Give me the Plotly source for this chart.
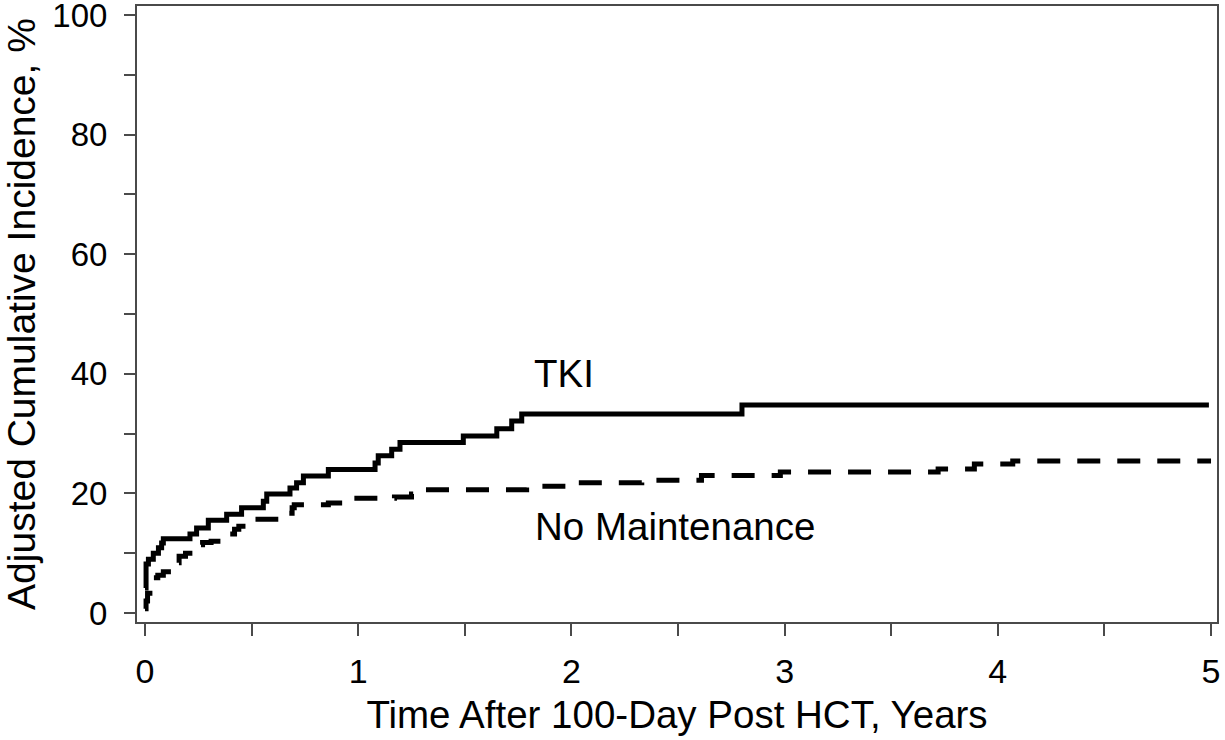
import plotly.graph_objects as go

# TKI (solid) step curve: time (years) and cumulative incidence (%)
tki_t = [0, 0.005, 0.016, 0.039, 0.063, 0.078, 0.086, 0.211, 0.242, 0.297, 0.383, 0.453,
         0.555, 0.571, 0.680, 0.711, 0.743, 0.860, 1.079, 1.094, 1.157, 1.196, 1.493,
         1.650, 1.720, 1.767, 2.800, 4.99]
tki_v = [4.2, 8.2, 9.0, 10.0, 10.9, 11.7, 12.4, 13.2, 14.2, 15.5, 16.5, 17.6,
         18.7, 19.9, 20.9, 21.8, 22.9, 24.0, 25.1, 26.3, 27.4, 28.5, 29.6,
         30.8, 32.1, 33.3, 34.8, 34.8]

# No Maintenance (dashed) step curve
nm_t = [0, 0.005, 0.012, 0.023, 0.035, 0.06, 0.086, 0.13, 0.16, 0.19, 0.23, 0.27, 0.31,
        0.37, 0.39, 0.42, 0.44, 0.50, 0.53, 0.66, 0.69, 0.70, 0.86, 0.97, 1.17, 1.25,
        1.29, 1.79, 1.96, 2.33, 2.61, 2.98, 3.72, 3.89, 4.07, 5.0]
nm_v = [0.7, 2.0, 3.3, 5.3, 5.9, 6.3, 6.9, 8.4, 9.5, 10.0, 11.4, 11.8, 12.0,
        12.9, 13.2, 14.0, 14.5, 15.1, 15.7, 16.7, 17.6, 18.1, 18.4, 19.2, 19.4, 19.9,
        20.6, 21.2, 21.8, 22.2, 23.0, 23.6, 24.1, 24.9, 25.4, 25.4]

x_ticks = [0, 0.5, 1, 1.5, 2, 2.5, 3, 3.5, 4, 4.5, 5]
x_ticktext = ["0", "", "1", "", "2", "", "3", "", "4", "", "5"]
y_ticks = [0, 10, 20, 30, 40, 50, 60, 70, 80, 90, 100]
y_ticktext = ["0", "", "20", "", "40", "", "60", "", "80", "", "100"]

FONT = "Liberation Sans, Arial, Helvetica, sans-serif"
AXC = "#4a4a4a"

fig = go.Figure()
fig.add_trace(go.Scatter(x=tki_t, y=tki_v, mode="lines", line_shape="hv",
                         line=dict(color="black", width=5), name="TKI",
                         showlegend=False))
fig.add_trace(go.Scatter(x=nm_t, y=nm_v, mode="lines", line_shape="hv",
                         line=dict(color="black", width=5, dash="23px,17px"),
                         name="No Maintenance", showlegend=False))

fig.add_annotation(x=1.815, y=40.0, text="TKI", showarrow=False, xanchor="left",
                   yanchor="middle", font=dict(family=FONT, size=38.5, color="black"))
fig.add_annotation(x=1.82, y=14.4, text="No Maintenance", showarrow=False, xanchor="left",
                   yanchor="middle", font=dict(family=FONT, size=38.5, color="black"))

fig.update_layout(
    width=1225, height=740,
    margin=dict(l=137, r=8, t=6, b=118),
    paper_bgcolor="white", plot_bgcolor="white",
    font=dict(family=FONT, color="black"),
    xaxis=dict(range=[-0.0375, 5.028], tickvals=x_ticks, ticktext=x_ticktext,
               ticks="outside", ticklen=12, tickwidth=2, tickcolor=AXC,
               showline=True, linecolor=AXC, linewidth=2, mirror=True,
               showgrid=False, zeroline=False, tickfont=dict(size=34),
               ticklabelstandoff=6, automargin=False, ticklabeloverflow="allow",
               title=dict(text="Time After 100-Day Post HCT, Years",
                          font=dict(size=38.5), standoff=12)),
    yaxis=dict(range=[-1.5, 101.5], tickvals=y_ticks, ticktext=y_ticktext,
               ticks="outside", ticklen=11, tickwidth=2, tickcolor=AXC,
               showline=True, linecolor=AXC, linewidth=2, mirror=True,
               showgrid=False, zeroline=False, tickfont=dict(size=33),
               ticklabelstandoff=10, automargin=False, ticklabeloverflow="allow",
               title=dict(text="Adjusted Cumulative Incidence, %",
                          font=dict(size=39), standoff=10)),
)

fig.write_html("out.html", config={"displayModeBar": False},
               post_script="document.body.style.margin='0';")
